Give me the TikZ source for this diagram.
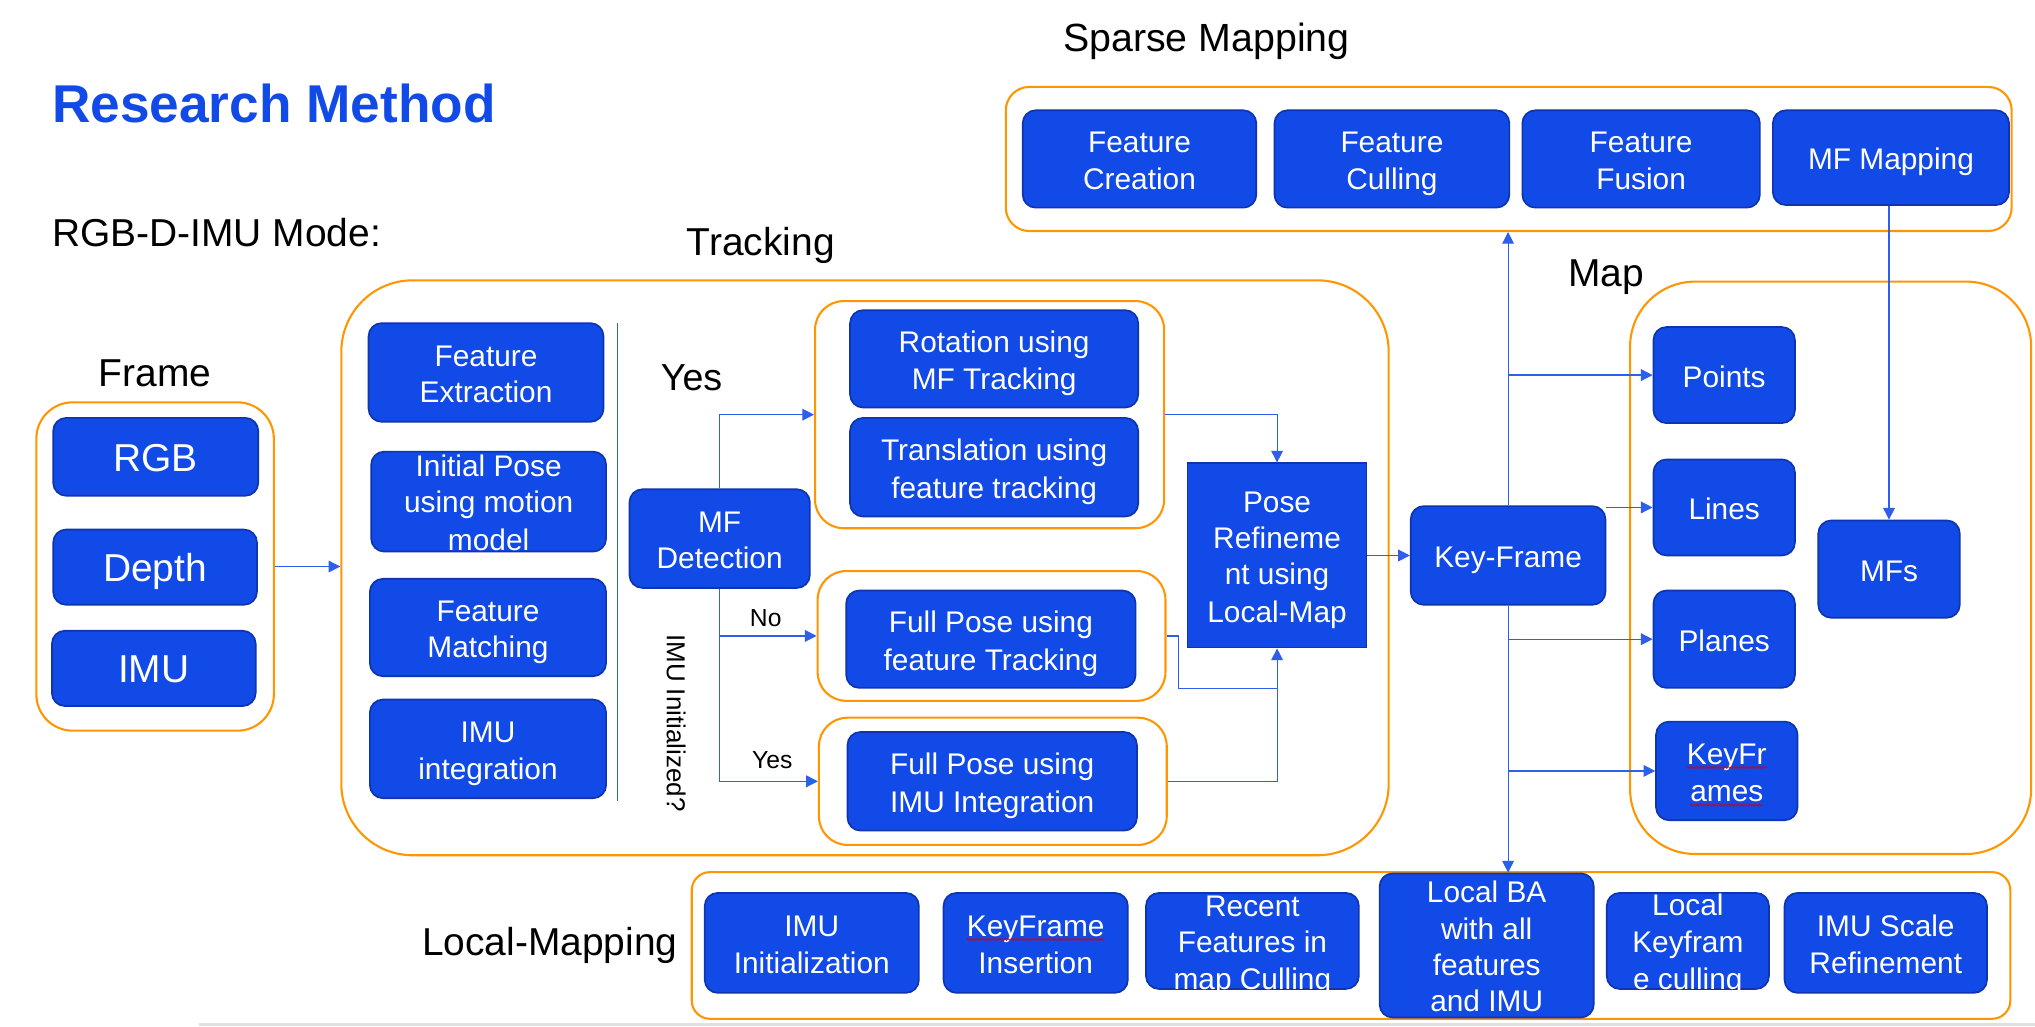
\documentclass[tikz,border=0pt]{standalone}
\usepackage{fontspec}
\setmainfont{Liberation Sans}
\usetikzlibrary{arrows.meta,fit,calc,decorations.pathmorphing}
\definecolor{bfill}{RGB}{17,74,230}
\definecolor{bdraw}{RGB}{14,52,175}
\definecolor{ora}{RGB}{255,150,0}
\definecolor{lnk}{RGB}{45,95,235}
\newcommand\redwave[1]{\tikz[baseline=(w.base)]{\node[inner sep=0pt,outer sep=0pt] (w) {#1};
  \draw[red!85!black, line width=0.6pt, decorate, decoration={zigzag, amplitude=0.7pt, segment length=2.4pt}]
   ($(w.base west)+(0pt,-2.6pt)$) -- ($(w.base east)+(0pt,-2.6pt)$);}}
\newcommand\tstrut{\rule[-4.75pt]{0pt}{28pt}}
\newcommand\bstrut{\rule[-6pt]{0pt}{34pt}}
\tikzset{
  bluebox/.style={draw=bdraw, fill=bfill, line width=1.3pt, rounded corners=10pt, inner sep=0pt},
  boxtext/.style={text=white, align=center, font=\fontsize{23}{28}\selectfont, inner sep=0pt},
  bigtext/.style={text=white, align=center, font=\fontsize{30}{34}\selectfont, inner sep=0pt},
  grpbox/.style={draw=ora, line width=1.6pt, inner sep=0pt},
  heading/.style={font=\fontsize{30}{34}\selectfont, inner sep=0pt, anchor=base west},
  small/.style={font=\fontsize{19}{22}\selectfont, inner sep=0pt},
  link/.style={draw=lnk, line width=0.9pt},
  arr/.style={link, -{Triangle[length=9pt,width=9pt]}},
}
\newcommand\myblk[7][boxtext]{%
  \node[bluebox, fit={(#3,#4) (#5,#6)}] (#2) {};
  \node[#1] (#2-t) at (#2.center) {\tstrut#7\tstrut};}
\newcommand\mybig[6]{%
  \node[bluebox, fit={(#2,#3) (#4,#5)}] (#1) {};
  \node[bigtext] (#1-t) at (#1.center) {\bstrut#6\bstrut};}
\newcommand\mygrp[6]{\node[grpbox, rounded corners=#6, fit={(#2,#3) (#4,#5)}] (#1) {};}
\begin{document}
\begin{tikzpicture}[x=1pt,y=-1pt]
\useasboundingbox (0,0) rectangle (1568,791);
\fill[white] (0,0) rectangle (1568,791);
\draw[black!12, line width=2pt] (153,789.5) -- (1568,789.5);

% headings
\node[heading, font=\fontsize{41}{44}\selectfont\bfseries, text=bfill] (title) at (40,94.5) {Research Method};
\node[heading] (mode) at (40,190) {RGB-D-IMU Mode:};
\node[heading] (htrack) at (529,196.5) {Tracking};
\node[heading, font=\fontsize{30.3}{34}\selectfont] (hsparse) at (819,40) {Sparse Mapping};
\node[heading] (hmap) at (1208,221) {Map};
\node[heading] (hframe) at (76,297.5) {Frame};
\node[heading] (hlocal) at (325,736) {Local-Mapping};

% containers
\mygrp{frame}{28}{310}{211}{563}{28pt}
\mygrp{track}{263}{216}{1070}{659}{55pt}
\mygrp{upg}{628}{232}{897}{407}{22pt}
\mygrp{midg}{630}{440}{898}{540}{22pt}
\mygrp{lowg}{631}{553}{899}{651}{22pt}
\mygrp{mapg}{1256}{217}{1565}{658}{50pt}
\mygrp{sparse}{775}{67}{1550}{178}{18pt}
\mygrp{localg}{533}{672}{1549}{785}{14pt}

% frame
\mybig{rgb}{41}{322}{199}{382}{RGB}
\mybig{depth}{41}{408}{198}{466}{Depth}
\mybig{imu}{40}{486}{197}{544}{IMU}

% tracking
\myblk{fe}{284}{249}{465}{325}{Feature\\Extraction}
\myblk{ip}{286}{348}{467}{425}{Initial Pose\\using motion\\model}
\myblk{fm}{285}{446}{467}{521}{Feature\\Matching}
\myblk{ii}{285}{539}{467}{615}{IMU\\integration}
\draw[link] (476,249) -- (476,617);
\node[heading, font=\fontsize{29}{32}\selectfont] (yesbig) at (509,301) {Yes};
\myblk{mfd}{485}{377}{624}{453}{MF\\Detection}
\node[small, rotate=-90, font=\fontsize{20}{22}\selectfont] (imuinit) at (521,557) {IMU Initialized?};
\myblk{rot}{655}{239}{877}{314}{Rotation using\\MF Tracking}
\myblk{tra}{655}{322}{877}{398}{Translation using\\feature tracking}
\myblk{fpf}{652}{455}{875}{530}{Full Pose using\\feature Tracking}
\myblk{fpi}{653}{564}{876}{640}{Full Pose using\\IMU Integration}
\node[bluebox, sharp corners, fit={(915,357) (1053,499)}] (pose) {};
\node[boxtext] (pose-t) at (pose.center) {\tstrut Pose\\Refineme\\nt using\\Local-Map\tstrut};
\node[small] (no) at (590,476) {No};
\node[small] (yessmall) at (595,586) {Yes};

% key-frame and map
\myblk{kf}{1087}{390}{1237}{466}{Key-Frame}
\myblk{pts}{1274}{252}{1383}{326}{Points}
\myblk{lns}{1274}{354}{1383}{428}{Lines}
\myblk{pln}{1274}{455}{1383}{530}{Planes}
\myblk{kfs}{1276}{556}{1385}{632}{\redwave{KeyFr}\\\redwave{ames}}
\myblk{mfs}{1401}{401}{1510}{476}{MFs}

% sparse mapping
\myblk{fc}{788}{85}{968}{160}{Feature\\Creation}
\myblk{fcu}{982}{85}{1163}{160}{Feature\\Culling}
\myblk{ffu}{1173}{85}{1356}{160}{Feature\\Fusion}
\myblk{mfm}{1366}{85}{1548}{158}{MF Mapping}

% local mapping
\myblk{imi}{543}{688}{708}{765}{IMU\\Initialization}
\myblk{kfi}{727}{688}{869}{765}{\redwave{KeyFrame}\\Insertion}
\myblk{rfc}{883}{688}{1047}{762}{Recent\\Features in\\map Culling}
\myblk{lba}{1063}{673}{1228}{784}{Local BA\\with all\\features\\and IMU}
\myblk{lkc}{1238}{688}{1363}{762}{Local\\Keyfram\\e culling}
\myblk{isr}{1375}{688}{1531}{765}{IMU Scale\\Refinement}

% connectors
\draw[arr] (frame.east) -- (frame.east -| track.west);
\draw[arr] (mfd.north) |- (upg.west);
\draw[arr] (mfd.south) |- (midg.west);
\draw[arr] (mfd.south) |- (lowg.west);
\draw[arr] (upg.east) -| (pose.north);
\coordinate (mj) at ($(pose.south)+(0,31)$);
\draw[link] (midg.east) -- ++(9,0) |- (mj);
\draw[arr] (lowg.east) -| (pose.south);
\draw[arr] (pose.east) -- (pose.east -| kf.west);
\draw[arr] (kf.north) -- (kf.north |- sparse.south);
\draw[arr] (kf.south) -- (kf.south |- lba.north);
\draw[arr] (kf.north) |- (pts.west);
\draw[arr] (kf.east |- lns.west) -- (lns.west);
\draw[arr] (kf.south) |- (pln.west);
\draw[arr] (kf.south) |- (kfs.west);
\draw[arr] (mfs.north |- mfm.south) -- (mfs.north);
\end{tikzpicture}
\end{document}
